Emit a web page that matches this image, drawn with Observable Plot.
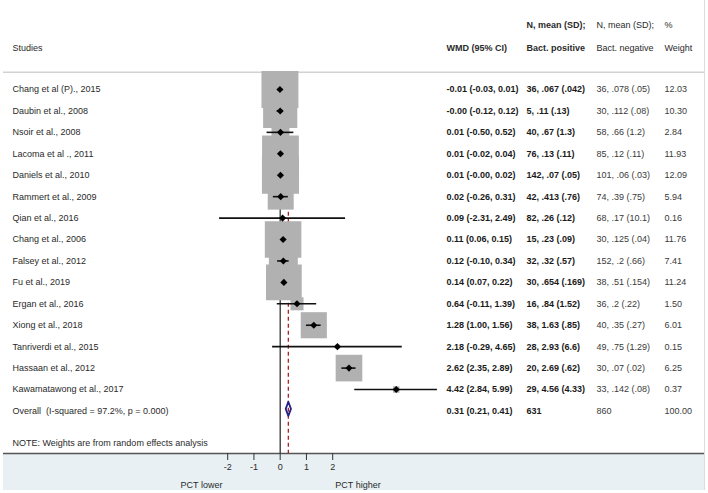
<!DOCTYPE html>
<html><head><meta charset="utf-8">
<script src="https://cdn.jsdelivr.net/npm/d3@7"></script>
<script src="https://cdn.jsdelivr.net/npm/@observablehq/plot@0.6"></script>
<style>body{margin:0;background:#fff} svg{display:block}</style>
</head><body><div id="chart"></div>
<script>
const studies = ["Chang et al (P)., 2015","Daubin et al., 2008","Nsoir et al., 2008","Lacoma et al ., 2011","Daniels et al., 2010","Rammert et al., 2009","Qian et al., 2016","Chang et al., 2006","Falsey et al., 2012","Fu et al., 2019","Ergan et al., 2016","Xiong et al., 2018","Tanriverdi et al., 2015","Hassaan et al., 2012","Kawamatawong et al., 2017"];
const est = [-0.01, -0.00, 0.01, 0.01, 0.01, 0.02, 0.09, 0.11, 0.12, 0.14, 0.64, 1.28, 2.18, 2.62, 4.42];
const lo  = [-0.03, -0.12, -0.50, -0.02, -0.00, -0.26, -2.31, 0.06, -0.10, 0.07, -0.11, 1.00, -0.29, 2.35, 2.84];
const hi  = [0.01, 0.12, 0.52, 0.04, 0.02, 0.31, 2.49, 0.15, 0.34, 0.22, 1.39, 1.56, 4.65, 2.89, 5.99];
const weights = [12.03, 10.30, 2.84, 11.93, 12.09, 5.94, 0.16, 11.76, 7.41, 11.24, 1.50, 6.01, 0.15, 6.25, 0.37];
const positive = ["36, .067 (.042)","5, .11 (.13)","40, .67 (1.3)","76, .13 (.11)","142, .07 (.05)","42, .413 (.76)","82, .26 (.12)","15, .23 (.09)","32, .32 (.57)","30, .654 (.169)","16, .84 (1.52)","38, 1.63 (.85)","28, 2.93 (6.6)","20, 2.69 (.62)","29, 4.56 (4.33)"];
const negative = ["36, .078 (.05)","30, .112 (.08)","58, .66 (1.2)","85, .12 (.11)","101, .06 (.03)","74, .39 (.75)","68, .17 (10.1)","30, .125 (.04)","152, .2 (.66)","38, .51 (.154)","36, .2 (.22)","40, .35 (.27)","49, .75 (1.29)","30, .07 (.02)","33, .142 (.08)"];
const overallLabel = "Overall  (I-squared = 97.2%, p = 0.000)";
const overallCI = [0.31, 0.21, 0.41];
const overallN = ["631", "860"];
const overallWeight = "100.00";
const note = "NOTE: Weights are from random effects analysis";
const headerTop = ["", "", "N, mean (SD);", "N, mean (SD);", "%"];
const headerBottom = ["Studies", "WMD (95% CI)", "Bact. positive", "Bact. negative", "Weight"];
const ticks = [-2, -1, 0, 1, 2];
const sideLabels = ["PCT lower", "PCT higher"];

const fmt = v => ((v < 0 || Object.is(v, -0)) ? "-" : "") + Math.abs(v).toFixed(2);
const rows = studies.map((s, i) => ({i, study: s, est: est[i], lo: lo[i], hi: hi[i], w: weights[i],
  wmd: `${fmt(est[i])} (${fmt(lo[i])}, ${fmt(hi[i])})`, pos: positive[i], neg: negative[i], wt: weights[i].toFixed(2)}));
const oi = rows.length;
const overall = {i: oi, study: overallLabel, wmd: `${fmt(overallCI[0])} (${fmt(overallCI[1])}, ${fmt(overallCI[2])})`,
  pos: overallN[0], neg: overallN[1], wt: overallWeight};
const tableRows = [...rows, overall];
const dh = 0.33;
const diamond = [
  {x: overallCI[1], y: oi - 0.1}, {x: overallCI[0], y: oi - 0.1 - dh},
  {x: overallCI[2], y: oi - 0.1}, {x: overallCI[0], y: oi - 0.1 + dh}, {x: overallCI[1], y: oi - 0.1}
];

const yTop = -4.153, yBottom = 16.985, yBand = 18.71, yHeader = -0.8;
const colDx = [9, 443, 523, 593, 661];
const font = "Liberation Sans, Arial, Helvetica, sans-serif";
const txt = (data, opts) => Plot.text(data, {frameAnchor: "left", textAnchor: "start", fontSize: 9, fill: "#2a2a2a", ...opts});

const chart = Plot.plot({
  width: 708, height: 493,
  marginLeft: 3, marginRight: 4, marginTop: 0, marginBottom: 40,
  style: {fontFamily: font, fontSize: "9px", background: "#fff"},
  x: {domain: [-10.541, 16.164]},
  y: {domain: [yTop, yBottom], reverse: true, axis: null},
  r: {type: "sqrt", domain: [0, 12.09], range: [0, 20.9]},
  marks: [
    Plot.rect([0], {y1: yBottom, y2: yBand, fill: "#e8f0f3"}),
    Plot.ruleY([yHeader], {stroke: "#d2d2d2", strokeWidth: 1.5}),
    Plot.ruleX([0], {y1: yHeader, y2: yBottom, stroke: "#333", strokeWidth: 1.3}),
    Plot.ruleX([overallCI[0]], {y1: yHeader, y2: yBottom, stroke: "#b22222", strokeWidth: 1.3, strokeDasharray: "4,3"}),
    Plot.dot(rows, {x: "est", y: "i", r: "w", symbol: "square", fill: "#b1b1b1", stroke: null}),
    Plot.ruleY(rows, {y: "i", x1: "lo", x2: "hi", stroke: "#111", strokeWidth: 1.6}),
    Plot.dot(rows, {x: "est", y: "i", r: 3.2, symbol: "diamond2", fill: "#000", stroke: null}),
    Plot.line(diamond, {x: "x", y: "y", stroke: "#22228a", strokeWidth: 1.8, fill: "none"}),
    // header
    ...headerTop.map((h, k) => txt([h], {y: -3, text: d => d, dx: colDx[k], fontWeight: (k === 1 || k === 2) ? "bold" : "normal"})),
    ...headerBottom.map((h, k) => txt([h], {y: -1.95, text: d => d, dx: colDx[k], fontWeight: (k === 1 || k === 2) ? "bold" : "normal"})),
    // table
    txt(tableRows, {y: "i", text: "study", dx: colDx[0]}),
    txt(tableRows, {y: "i", text: "wmd", dx: colDx[1], fontWeight: "bold", fill: "#1a1a1a"}),
    txt(tableRows, {y: "i", text: "pos", dx: colDx[2], fontWeight: "bold", fill: "#1a1a1a"}),
    txt(tableRows, {y: "i", text: "neg", dx: colDx[3], fill: "#3a3a3a"}),
    txt(tableRows, {y: "i", text: "wt", dx: colDx[4], fill: "#3a3a3a"}),
    txt([note], {y: 16.5, text: d => d, dx: colDx[0]}),
    Plot.ruleY([yBottom], {stroke: "#555", strokeWidth: 1.5}),
    Plot.axisX({ticks, tickFormat: d => String(d), tickSize: 7, tickPadding: 3, fontSize: 9, label: null, stroke: "#333", fill: "#2a2a2a"}),
    Plot.text([sideLabels[0]], {x: -2.2, y: 18.48, text: d => d, textAnchor: "end", fontSize: 9, fill: "#2a2a2a"}),
    Plot.text([sideLabels[1]], {x: 2.1, y: 18.48, text: d => d, textAnchor: "start", fontSize: 9, fill: "#2a2a2a"}),
    Plot.ruleX([16.164], {y1: yTop, y2: yBand, stroke: "#dcdcdc", strokeWidth: 1})
  ]
});
document.getElementById("chart").append(chart);
</script>
</body></html>
